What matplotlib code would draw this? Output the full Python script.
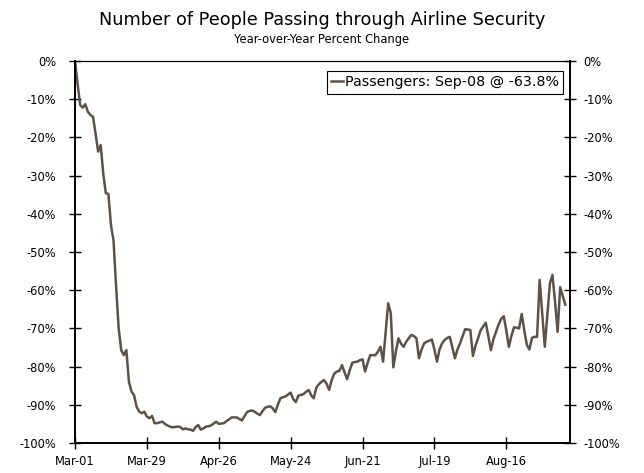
import matplotlib
matplotlib.use("Agg")
import matplotlib.pyplot as plt
import matplotlib.dates as mdates
import pandas as pd

# daily TSA throughput, y/y % change, Mar-01 .. Sep-08
dates = pd.date_range("2020-03-01", "2020-09-08", freq="D")
passengers = [
    0, -6, -11.5, -12.2, -11.3, -13.3, -14.1, -14.6, -19, -23.7,
    -22, -29.5, -34.6, -34.8, -43, -47, -59, -70, -75.7, -77,
    -75.7, -84, -86.5, -87.5, -90.5, -91.8, -92.2, -91.8, -93.1, -93.5,
    -92.9, -94.8, -94.8, -94.6, -94.4, -95, -95.4, -95.7, -95.9, -95.8,
    -95.7, -95.8, -96.4, -96.2, -96.4, -96.5, -96.8, -95.8, -95.3, -96.5,
    -96.2, -95.7, -95.6, -95.4, -94.9, -94.4, -95, -94.9, -94.8, -94.3,
    -93.8, -93.3, -93.3, -93.3, -93.7, -94.1, -93, -91.9, -91.6, -91.5,
    -91.8, -92.3, -92.7, -91.7, -90.8, -90.5, -90.4, -90.9, -91.9, -90,
    -88.3, -88, -87.8, -87.3, -86.8, -88.5, -89.3, -87.6, -87.4, -87.2,
    -86.6, -86.1, -87.5, -88.3, -85.5, -84.6, -84, -83.5, -84.5, -86.1,
    -83.5, -81.8, -81.3, -81.1, -79.6, -81.5, -83.3, -81, -79, -78.8,
    -78.7, -78.3, -78.1, -81.3, -79, -77, -77, -77, -76.1, -74.8,
    -78.7, -71, -63.4, -66, -80.2, -76, -72.6, -74, -74.8, -73.5,
    -72.6, -71.7, -72, -72.6, -77.8, -75.5, -73.9, -73.5, -73.2, -72.9,
    -75.5, -78.7, -75.5, -73.9, -73, -72.5, -72.2, -75, -77.8, -75.5,
    -73.9, -72, -70.2, -70.3, -70.4, -77.2, -74.5, -72.6, -70.5, -69.5,
    -68.5, -72, -75.7, -72.8, -70.9, -69, -67.5, -66.8, -70.5, -74.8,
    -72, -69.7, -69.8, -70, -66.2, -70.5, -74.3, -75.5, -72.5, -72.2,
    -72.2, -57.3, -66, -74.8, -66.5, -58.2, -56, -63, -70.9, -59.2,
    -61.5, -63.8,
]
yticks = [0, -10, -20, -30, -40, -50, -60, -70, -80, -90, -100]
ylabels = [f"{v}%" for v in yticks]
xtick_dates = pd.date_range("2020-03-01", periods=7, freq="28D")

fig = plt.figure(figsize=(6.44, 4.73), dpi=100)
ax = fig.add_axes([0.1165, 0.0634, 0.7685, 0.8076])

ax.plot(dates, passengers, color="#5e5247", lw=1.8,
        label="Passengers: Sep-08 @ -63.8%")

ax.set_ylim(-100, 0)
ax.set_xlim(dates[0], dates[-1] + pd.Timedelta(days=1.8))
ax.set_yticks(yticks)
ax.set_yticklabels(ylabels)
ax.set_xticks(xtick_dates)
ax.xaxis.set_major_formatter(mdates.DateFormatter("%b-%d"))
ax.tick_params(axis="both", direction="inout", length=9, width=1,
               labelsize=8.3, colors="black")
ax.tick_params(axis="y", pad=9)
ax.tick_params(axis="x", pad=4)

# right hand axis, same scale
ax2 = ax.twinx()
ax2.set_ylim(-100, 0)
ax2.set_yticks(yticks)
ax2.set_yticklabels(ylabels)
ax2.tick_params(axis="y", direction="inout", length=9, width=1,
                labelsize=8.3, pad=5)

for a in (ax, ax2):
    for s in ["left", "right", "bottom"]:
        a.spines[s].set_linewidth(1.3)
    a.spines["top"].set_linewidth(0.8)

leg = ax.legend(loc="upper right", bbox_to_anchor=(0.995, 0.985),
                fontsize=10.3, handlelength=0.8, handletextpad=0.15,
                borderpad=0.3, borderaxespad=0.3, fancybox=False, framealpha=1)
leg.get_frame().set_edgecolor("black")
leg.get_frame().set_linewidth(0.8)

fig.text(0.5, 0.958, "Number of People Passing through Airline Security",
         ha="center", va="center", fontsize=12.7)
fig.text(0.5, 0.916, "Year-over-Year Percent Change",
         ha="center", va="center", fontsize=8.3)

fig.savefig("out.png", dpi=100)
